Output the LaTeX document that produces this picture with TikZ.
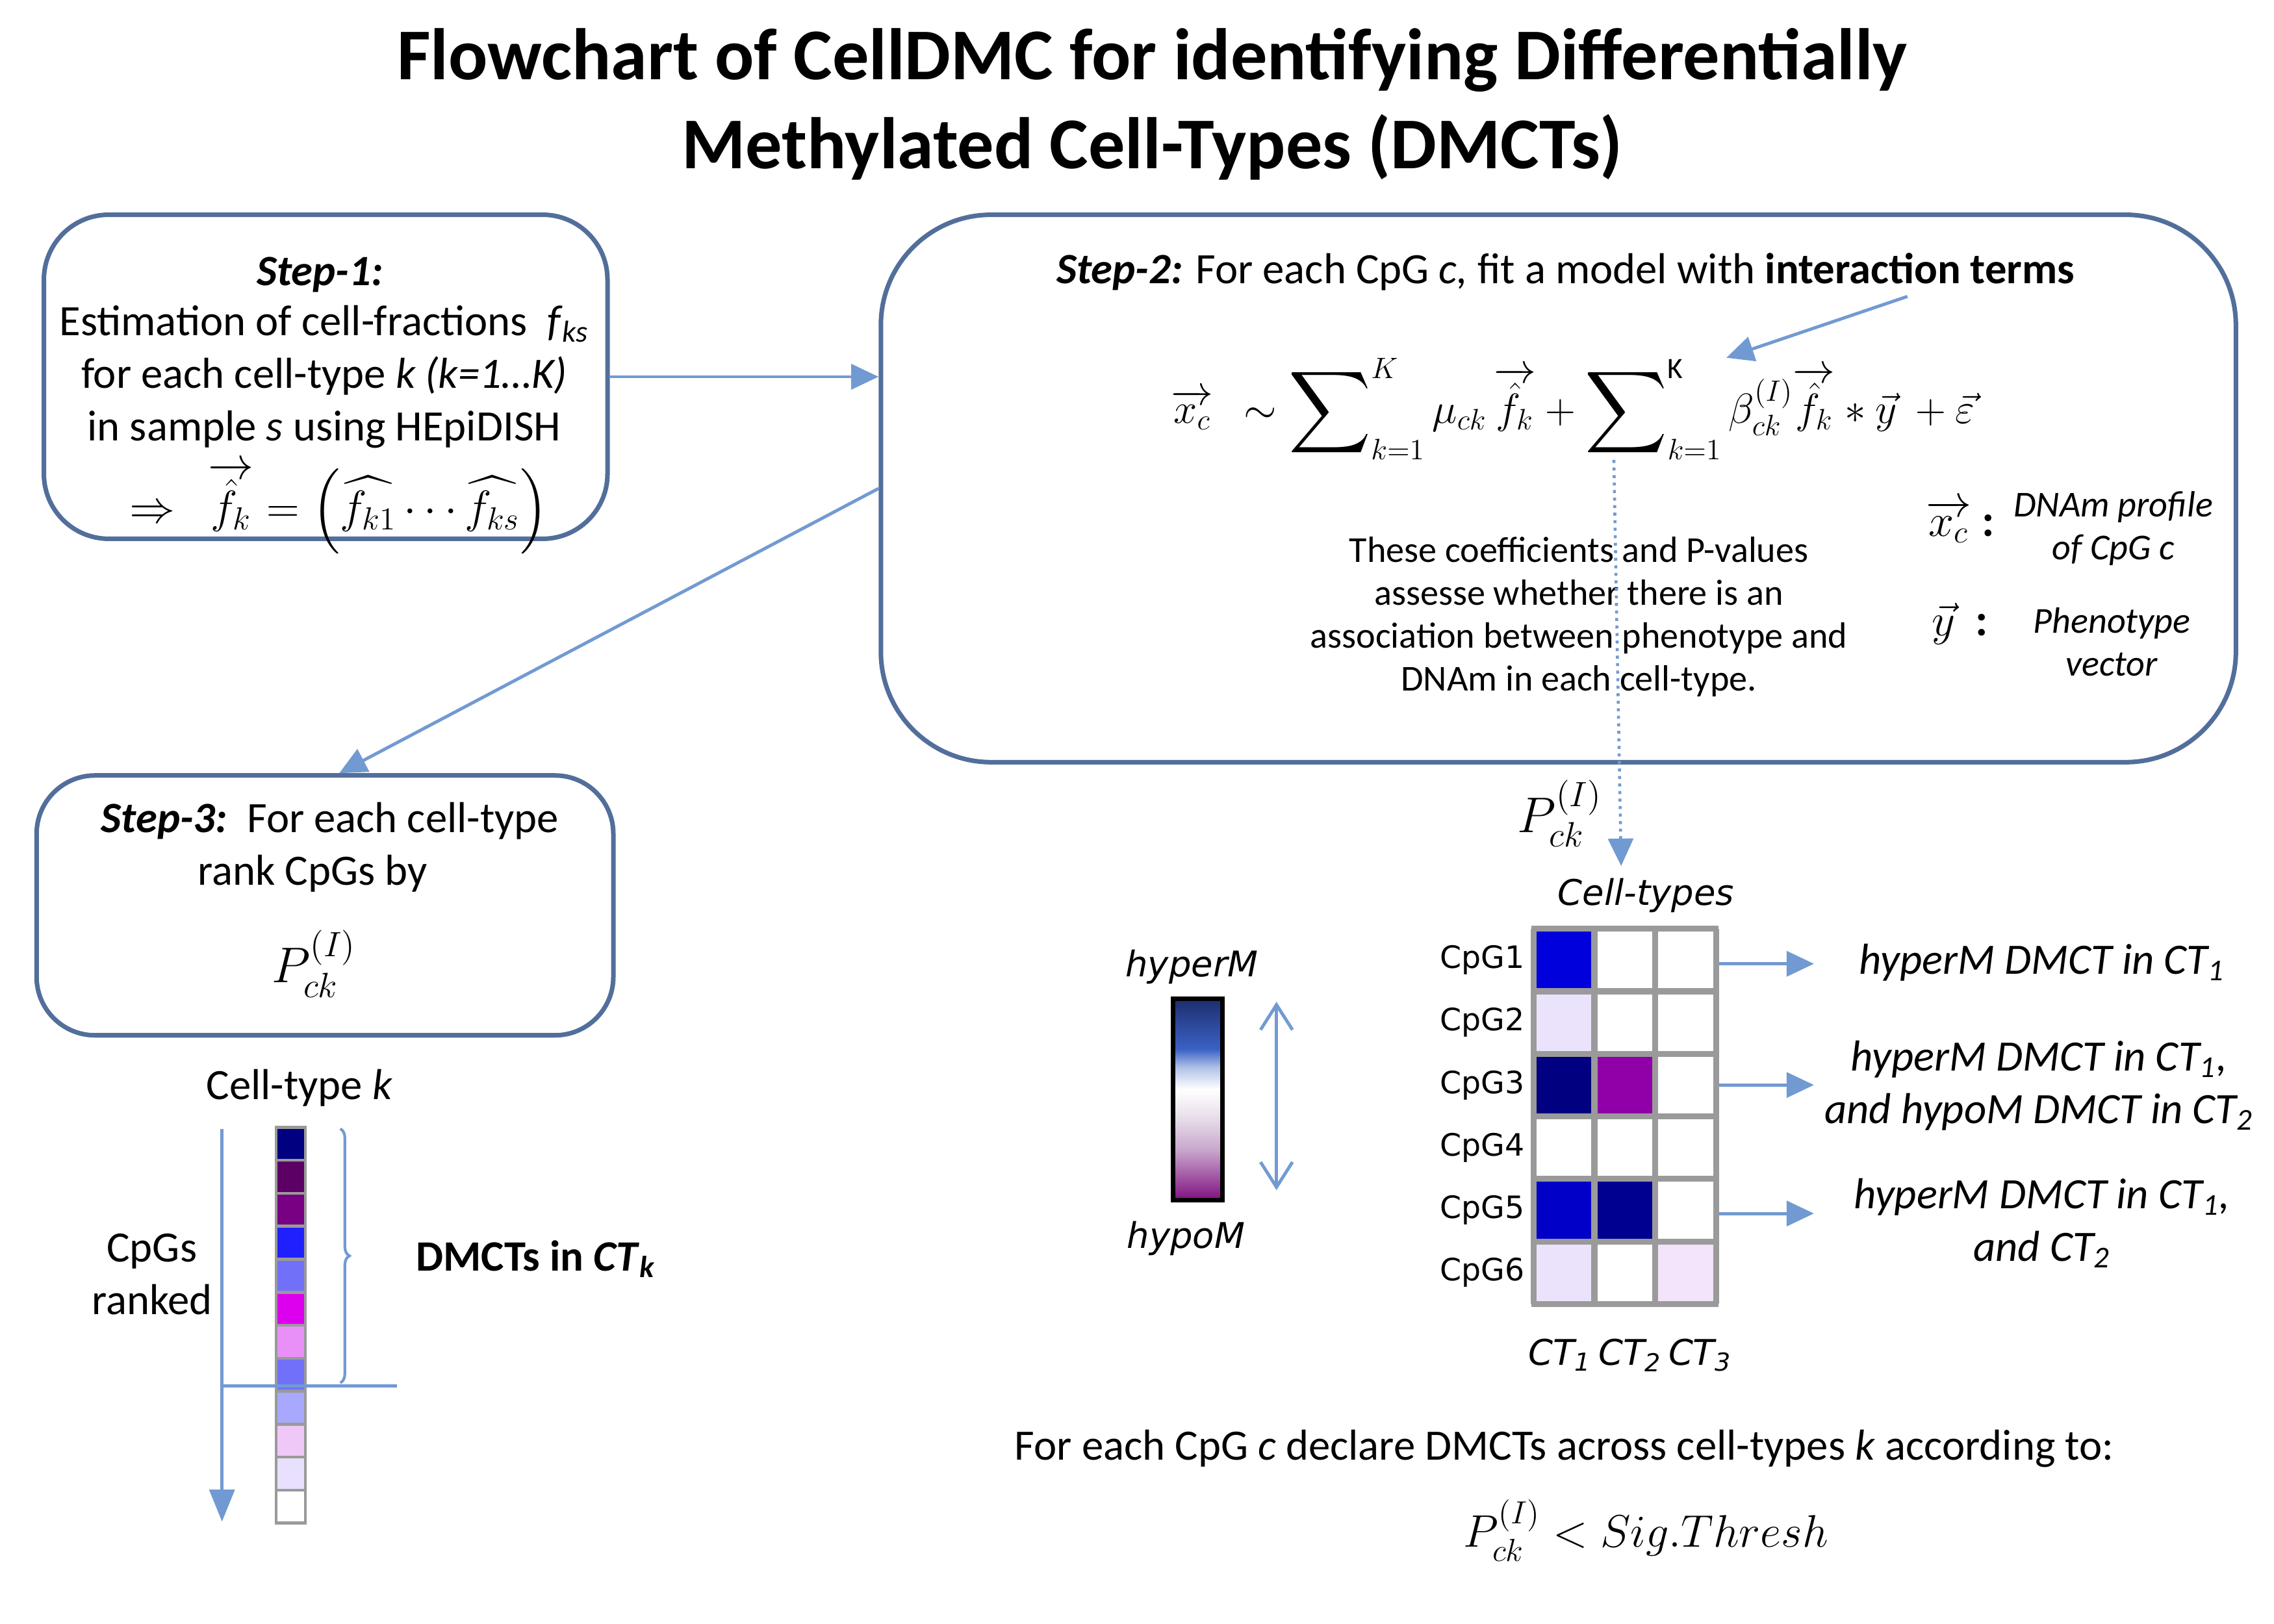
\documentclass[tikz,border=0pt]{standalone}
\usepackage{fix-cm}
\usepackage{amsmath}
\usepackage{graphicx}
\usepackage{fontspec}
\setmainfont{Carlito}
\newfontfamily\verd{DejaVu Sans}
\usetikzlibrary{arrows.meta,decorations.pathreplacing,calc}
\definecolor{boxc}{RGB}{82,110,155}
\definecolor{arrc}{RGB}{114,154,210}
\definecolor{gridc}{RGB}{154,154,154}
\definecolor{hmA}{HTML}{0000DD}
\definecolor{hmL}{HTML}{EBE3FB}
\definecolor{hmN}{HTML}{000080}
\definecolor{hmP}{HTML}{9000A8}
\definecolor{hmB}{HTML}{0000C8}
\definecolor{hmD}{HTML}{000090}
\definecolor{hmQ}{HTML}{F3E3FB}
\definecolor{sA}{HTML}{000080}
\definecolor{sB}{HTML}{5C0066}
\definecolor{sC}{HTML}{780082}
\definecolor{sD}{HTML}{2020FF}
\definecolor{sE}{HTML}{7070F8}
\definecolor{sF}{HTML}{DD00EE}
\definecolor{sG}{HTML}{E890F8}
\definecolor{sH}{HTML}{7070F8}
\definecolor{sI}{HTML}{A8A8FF}
\definecolor{sJ}{HTML}{F0C8F8}
\definecolor{sK}{HTML}{E8E0FC}
\definecolor{sL}{HTML}{FFFFFF}
\definecolor{cbP}{HTML}{80107F}
\definecolor{cbQ}{HTML}{C8A6CC}
\definecolor{cbR}{HTML}{E6DBE8}
\definecolor{cbB}{HTML}{3A62C4}
\definecolor{cbN}{HTML}{1E2D6E}
\pgfdeclareverticalshading{cbar}{100bp}{color(0bp)=(cbP); color(25bp)=(cbP); color(37.5bp)=(cbQ); color(45bp)=(cbR); color(52.5bp)=(white); color(58bp)=(white!60!cbB); color(62.5bp)=(cbB); color(75bp)=(cbN); color(100bp)=(cbN)}
\newcommand{\bigsum}{\mathop{\vcenter{\hbox{\scalebox{1.45}{$\displaystyle\sum$}}}}\nolimits}
\begin{document}
\begin{tikzpicture}[x=0.0225cm,y=-0.0225cm,
  boxst/.style={draw=boxc, line width=2pt, inner sep=0pt, fill=none},
  arr/.style={draw=arrc, line width=1.4pt, -{Triangle[length=12pt,width=11pt]}},
  txt/.style={font=\fontsize{19}{23}\selectfont, align=center, inner sep=0pt},
  small/.style={font=\fontsize{16}{18.8}\selectfont, align=center, inner sep=0pt},
  vtxt/.style={font=\verd\fontsize{13.5}{16}\selectfont, inner sep=0pt},
  vit/.style={font=\verd\itshape\fontsize{15.5}{18}\selectfont, inner sep=0pt},
  ttl/.style={font=\bfseries\fontsize{32}{38}\selectfont, inner sep=0pt}]
\useasboundingbox (0,0) rectangle (1557,1112);
\fill[white] (0,0) rectangle (1557,1112);

% title
\node[ttl] (t1) at (789,41) {Flowchart of CellDMC for identifying Differentially};
\node[ttl] (t2) at (789,101) {Methylated Cell-Types (DMCTs)};

% boxes
\node[boxst, rounded corners=1.0cm, minimum width=8.685cm, minimum height=4.995cm] (s1) at (223,258) {};
\node[boxst, rounded corners=1.7cm, minimum width=20.88cm, minimum height=8.4375cm] (s2) at (1067,334.5) {};
\node[boxst, rounded corners=0.9cm, minimum width=8.8875cm, minimum height=4.005cm] (s3) at (222.5,620) {};

% step 1 text
\node[txt] (s1a) at (219,188) {\textbf{\textit{Step-1:}}};
\node[txt] (s1b) at (222,258) {Estimation of cell-fractions \ \textit{f}\textsubscript{\textit{ks}}\\
  for each cell-type \textit{k (k=1…K)}\\
  in sample \textit{s} using HEpiDISH};
\node[txt, font=\fontsize{20}{24}\selectfont] (s1e) at (232,348) {$\Rightarrow\ \ \overrightarrow{\hat{f}_k}=\Bigl(\widehat{f_{k1}}\cdots\widehat{f_{ks}}\Bigr)$};

% step 2 text
\node[txt] (s2a) at (1072,186) {\textbf{\textit{Step-2:}} For each CpG \textit{c,} fit a model with \textbf{interaction terms}};
\node[txt, font=\fontsize{18.5}{22}\selectfont] (form) at (1077,280) {$\overrightarrow{x_c}\ \ \sim\bigsum_{k=1}^{K}\mu_{ck}\,\overrightarrow{\hat{f}_k}+\bigsum_{k=1}^{\mathrm{K}}\beta_{ck}^{(I)}\overrightarrow{\hat{f}_k}*\vec{y}\ +\vec{\varepsilon}$};
\node[small] (desc) at (1081,422.5) {These coefficients and P-values\\
  assesse whether there is an\\
  association between phenotype and\\
  DNAm in each cell-type.};
\node[small, font=\fontsize{20}{24}\selectfont] (lx) at (1342,357) {$\overrightarrow{x_c}$ \textbf{:}};
\node[small] (lx1) at (1447,362) {\textit{DNAm profile}\\\textit{of CpG c}};
\node[small, font=\fontsize{20}{24}\selectfont] (ly) at (1342,427) {$\vec{y}$ \ \textbf{:}};
\node[small] (ly1) at (1446,439.5) {\textit{Phenotype}\\\textit{vector}};

% step 3 text
\node[txt] (s3a) at (226,562) {\textbf{\textit{Step-3:}}\ \ For each cell-type};
\node[txt] (s3b) at (214,598) {rank CpGs by};
\node[txt, font=\fontsize{22}{26}\selectfont] (s3c) at (215,660) {$P_{ck}^{(I)}$};

% arrows between boxes
\draw[arr] (s1.east) -- (s1.east -| s2.west);
\draw[arr] (s2.west) -- ([xshift=0.22cm]s3.north);
\coordinate (itA) at (1306,203);
\coordinate (itB) at (1182,245);
\draw[arr] (itA) -- (itB);
\node[txt, font=\fontsize{22}{26}\selectfont] (pl) at (1068,557) {$P_{ck}^{(I)}$};
\coordinate (dotA) at (1105,315);
\coordinate (dotB) at (1110,593);
\draw[draw=arrc, line width=1.3pt, dotted, -{Triangle[length=12pt,width=11pt]}] (dotA) -- (dotB);

% heatmap
\node[vit] (ctypes) at (1127,613) {Cell-types};
\foreach \r/\c/\col in {1/1/hmA,2/1/hmL,3/1/hmN,3/2/hmP,5/1/hmB,5/2/hmD,6/1/hmL,6/3/hmQ}{
  \fill[\col] ({1050+(\c-1)*41.667},{636+(\r-1)*42.833}) rectangle ++(41.667,42.833);
}
\foreach \i in {0,...,3}{\draw[gridc, line width=2.6pt] ({1050+\i*41.667},636) -- ({1050+\i*41.667},893);}
\foreach \j in {0,...,6}{\draw[gridc, line width=2.6pt] (1048.5,{636+\j*42.833}) -- (1176.5,{636+\j*42.833});}
\foreach \j in {1,...,6}{\node[vtxt] (cpg\j) at (1015,{636+(\j-0.5)*42.833}) {CpG\j};}
\node[vit] (ct1) at (1068,928) {CT\textsubscript{1}};
\node[vit] (ct2) at (1116,928) {CT\textsubscript{2}};
\node[vit] (ct3) at (1164,928) {CT\textsubscript{3}};

% right labels
\node[txt] (r1) at (1398,659) {\textit{hyperM DMCT in CT\textsubscript{1}}};
\node[txt] (r2) at (1396,743.5) {\textit{hyperM DMCT in CT\textsubscript{1},}\\\textit{and hypoM DMCT in CT\textsubscript{2}}};
\node[txt] (r3) at (1398,837.5) {\textit{hyperM DMCT in CT\textsubscript{1},}\\\textit{and CT\textsubscript{2}}};
\coordinate (h1) at (1177,660); \coordinate (e1) at (1242,660);
\coordinate (h2) at (1177,743); \coordinate (e2) at (1242,743);
\coordinate (h3) at (1177,831); \coordinate (e3) at (1242,831);
\draw[arr] (h1) -- (e1);
\draw[arr] (h2) -- (e2);
\draw[arr] (h3) -- (e3);

% color bar
\node[vit] (hyper) at (816,662) {hyperM};
\node[vit] (hypo) at (812,848) {hypoM};
\shade[shading=cbar] (803,684) rectangle (837,822);
\draw[black, line width=2pt] (803,684) rectangle (837,822);
\coordinate (daA) at (874,686);
\coordinate (daB) at (874,815);
\draw[draw=arrc, line width=1.4pt, {Straight Barb[length=11pt,width=14pt]}-{Straight Barb[length=11pt,width=14pt]}] (daA) -- (daB);

% left column
\node[txt] (ctk) at (205,745) {Cell-type \textit{k}};
\node[txt] (cpgs) at (104,872.5) {CpGs\\ranked};
\node[txt] (dmcts) at (367,862) {\textbf{DMCTs in \textit{CT}\textsubscript{\textit{k}}}};
\foreach \i/\col in {1/sA,2/sB,3/sC,4/sD,5/sE,6/sF,7/sG,8/sH,9/sI,10/sJ,11/sK,12/sL}{
  \fill[\col] (189,{772+(\i-1)*22.583}) rectangle ++(20,22.583);
  \draw[gridc, line width=1.3pt] (189,{772+(\i-1)*22.583}) rectangle ++(20,22.583);
}
\coordinate (vaA) at (152,773);
\coordinate (vaB) at (152,1042);
\draw[draw=arrc, line width=1.3pt, -{Triangle[length=14pt,width=11pt]}] (vaA) -- (vaB);
\coordinate (hlA) at (152,949);
\coordinate (hlB) at (272,949);
\draw[arrc, line width=1.3pt] (hlA) -- (hlB);
\coordinate (brA) at (233,773);
\coordinate (brB) at (233,947);
\draw[arrc, line width=1.2pt, decorate, decoration={brace, amplitude=4pt}] (brA) -- (brB);

% bottom text
\node[txt] (bt) at (1071,992) {For each CpG \textit{c} declare DMCTs across cell-types \textit{k} according to:};
\node[txt, font=\fontsize{20}{24}\selectfont] (thr) at (1127,1048) {$P_{ck}^{(I)} < Sig.Thresh$};
\end{tikzpicture}
\end{document}
